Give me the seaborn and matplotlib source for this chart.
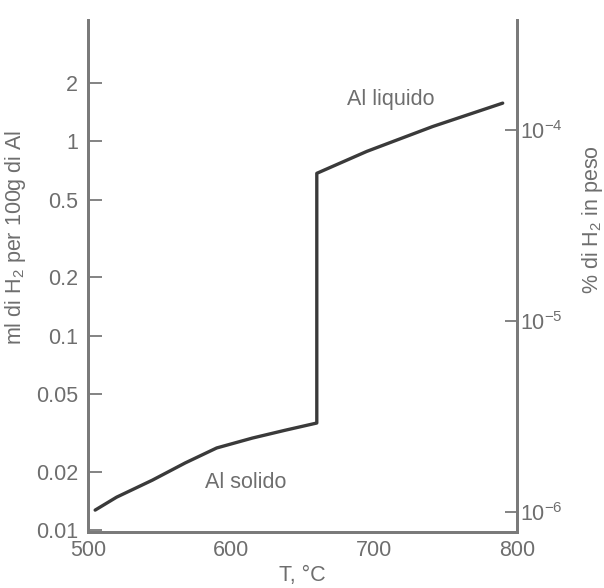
import matplotlib
matplotlib.use("Agg")
import matplotlib.pyplot as plt
import seaborn as sns
import pandas as pd
import numpy as np

# Data
temperature = [505, 520, 545, 568, 590, 615, 638, 660, 660, 695, 741, 790]
h2_ml = [0.0127, 0.0148, 0.0181, 0.0222, 0.0265, 0.0298, 0.0327, 0.0356,
         0.684, 0.887, 1.19, 1.57]
left_ticks = [0.01, 0.02, 0.05, 0.1, 0.2, 0.5, 1, 2]
left_labels = ["0.01", "0.02", "0.05", "0.1", "0.2", "0.5", "1", "2"]
right_ticks = [1e-6, 1e-5, 1e-4]
right_labels = ["10$^{-6}$", "10$^{-5}$", "10$^{-4}$"]
x_ticks = [500, 550, 600, 650, 700, 750, 800]
x_labels = ["500", "", "600", "", "700", "", "800"]

sns.set_style("white")
plt.rcParams["font.family"] = ["Liberation Sans", "DejaVu Sans"]
plt.rcParams["mathtext.default"] = "regular"

GRAY = "#6e6e6e"
SPINE = "#7a7a7a"
FS = 15.5

df = pd.DataFrame({"T": temperature, "ml": h2_ml})

fig = plt.figure(figsize=(6.04, 5.88), dpi=100)
ax = fig.add_axes([88/604, 1-532/588, (517-88)/604, (532-20)/588])
sns.lineplot(data=df, x="T", y="ml", ax=ax, color="#3a3a3a", linewidth=2.4,
             sort=False, estimator=None)
ax.set_yscale("log")
ax.set_xlim(500, 800)
ax.set_ylim(0.0098, 4.2)
ax.set_yticks(left_ticks)
ax.set_yticklabels(left_labels)
ax.minorticks_off()
ax.set_xticks(x_ticks)
ax.set_xticklabels(x_labels)
ax.tick_params(axis="both", direction="in", colors=SPINE, labelcolor=GRAY,
               labelsize=FS, width=1.3)
ax.tick_params(axis="y", length=10, pad=7)
ax.tick_params(axis="x", length=9, pad=6)
ax.set_xlabel("T, °C", fontsize=FS, color=GRAY)
ax.xaxis.set_label_coords(0.5, -0.064)
ax.set_ylabel("ml di H$_2$ per 100g di Al", fontsize=FS, color=GRAY)
ax.yaxis.set_label_coords(-0.14, 0.575)

for s in ["left", "bottom", "right"]:
    ax.spines[s].set_color(SPINE)
    ax.spines[s].set_linewidth(2)
ax.spines["top"].set_visible(False)

ax2 = ax.twinx()
ax2.set_yscale("log")
ax2.set_ylim(7.85e-7, 3.79e-4)
ax2.set_yticks(right_ticks)
ax2.set_yticklabels(right_labels)
ax2.minorticks_off()
ax2.tick_params(axis="y", direction="in", length=9, width=1.3, colors=SPINE,
                labelcolor=GRAY, labelsize=FS, pad=2)
ax2.set_ylabel("% di H$_2$ in peso", fontsize=FS, color=GRAY, rotation=90)
ax2.yaxis.set_label_coords(1.148, 0.61)
for s in ["left", "bottom", "right"]:
    ax2.spines[s].set_color(SPINE)
    ax2.spines[s].set_linewidth(2)
ax2.spines["top"].set_visible(False)

ax.text(712, 1.64, "Al liquido", fontsize=FS, color=GRAY, ha="center", va="center")
ax.text(610.5, 0.0177, "Al solido", fontsize=FS, color=GRAY, ha="center", va="center")

fig.savefig("out.png", dpi=100)
